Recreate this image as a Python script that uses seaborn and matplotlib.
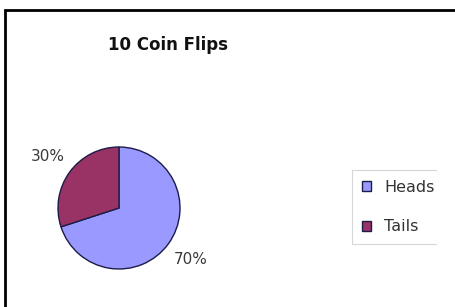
import matplotlib
matplotlib.use("Agg")
import matplotlib.pyplot as plt
import matplotlib.patches as mpatches
import seaborn as sns

# data
labels = ["Heads", "Tails"]
counts = [7, 3]
colors = ["#9999ff", "#993366"]
title = "10 Coin Flips"

sns.set_theme(style="white")
plt.rcParams["font.family"] = ["DejaVu Sans"]

W, H = 456, 307
fig = plt.figure(figsize=(W / 100, H / 100), dpi=100)
fig.patch.set_facecolor("white")

# outer frame (runs off right and bottom edges)
frame = mpatches.Rectangle((5 / W, -0.2), 2.0, 1 - 10 / H + 0.2,
                           transform=fig.transFigure, fill=False,
                           edgecolor="black", linewidth=2.0, zorder=1)
fig.patches.append(frame)

# pie axes, centre ~ (119, 208) px, radius ~61 px
r = 61
cx, cy = 119, 208
size = 2.5 * r
ax = fig.add_axes([(cx - size / 2) / W, (H - cy - size / 2) / H, size / W, size / H])
wedges, texts, autotexts = ax.pie(
    counts, colors=colors, startangle=90, counterclock=False,
    autopct="%1.0f%%", pctdistance=1.45,
    wedgeprops=dict(edgecolor="#1c1c48", linewidth=1.0),
    textprops=dict(fontsize=11, color="#3a3a3a"),
)
ax.set_xlim(-1.25, 1.25)
ax.set_ylim(-1.25, 1.25)
ax.set_axis_off()

fig.text(168 / W, 1 - 45 / H, title, ha="center", va="center",
         fontsize=12, fontweight="bold", color="#111111")

leg = fig.legend(wedges, labels, loc="upper left",
                 bbox_to_anchor=(352 / W, 1 - 170 / H), borderaxespad=0,
                 fontsize=11.5, frameon=True, fancybox=False, shadow=False,
                 handlelength=0.6, handleheight=0.6, handletextpad=0.8,
                 labelspacing=1.55, borderpad=0.6)
leg.get_frame().set_edgecolor("#cccccc")
leg.get_frame().set_linewidth(0.8)
for t in leg.get_texts():
    t.set_color("#333333")

# the legend is cut off on its right side in the original
cover = mpatches.Rectangle((437 / W, 1 - 255 / H), 1.0, 95 / H,
                           transform=fig.transFigure, facecolor="white",
                           edgecolor="none", zorder=10)
fig.patches.append(cover)

fig.savefig("out.png", dpi=100)
